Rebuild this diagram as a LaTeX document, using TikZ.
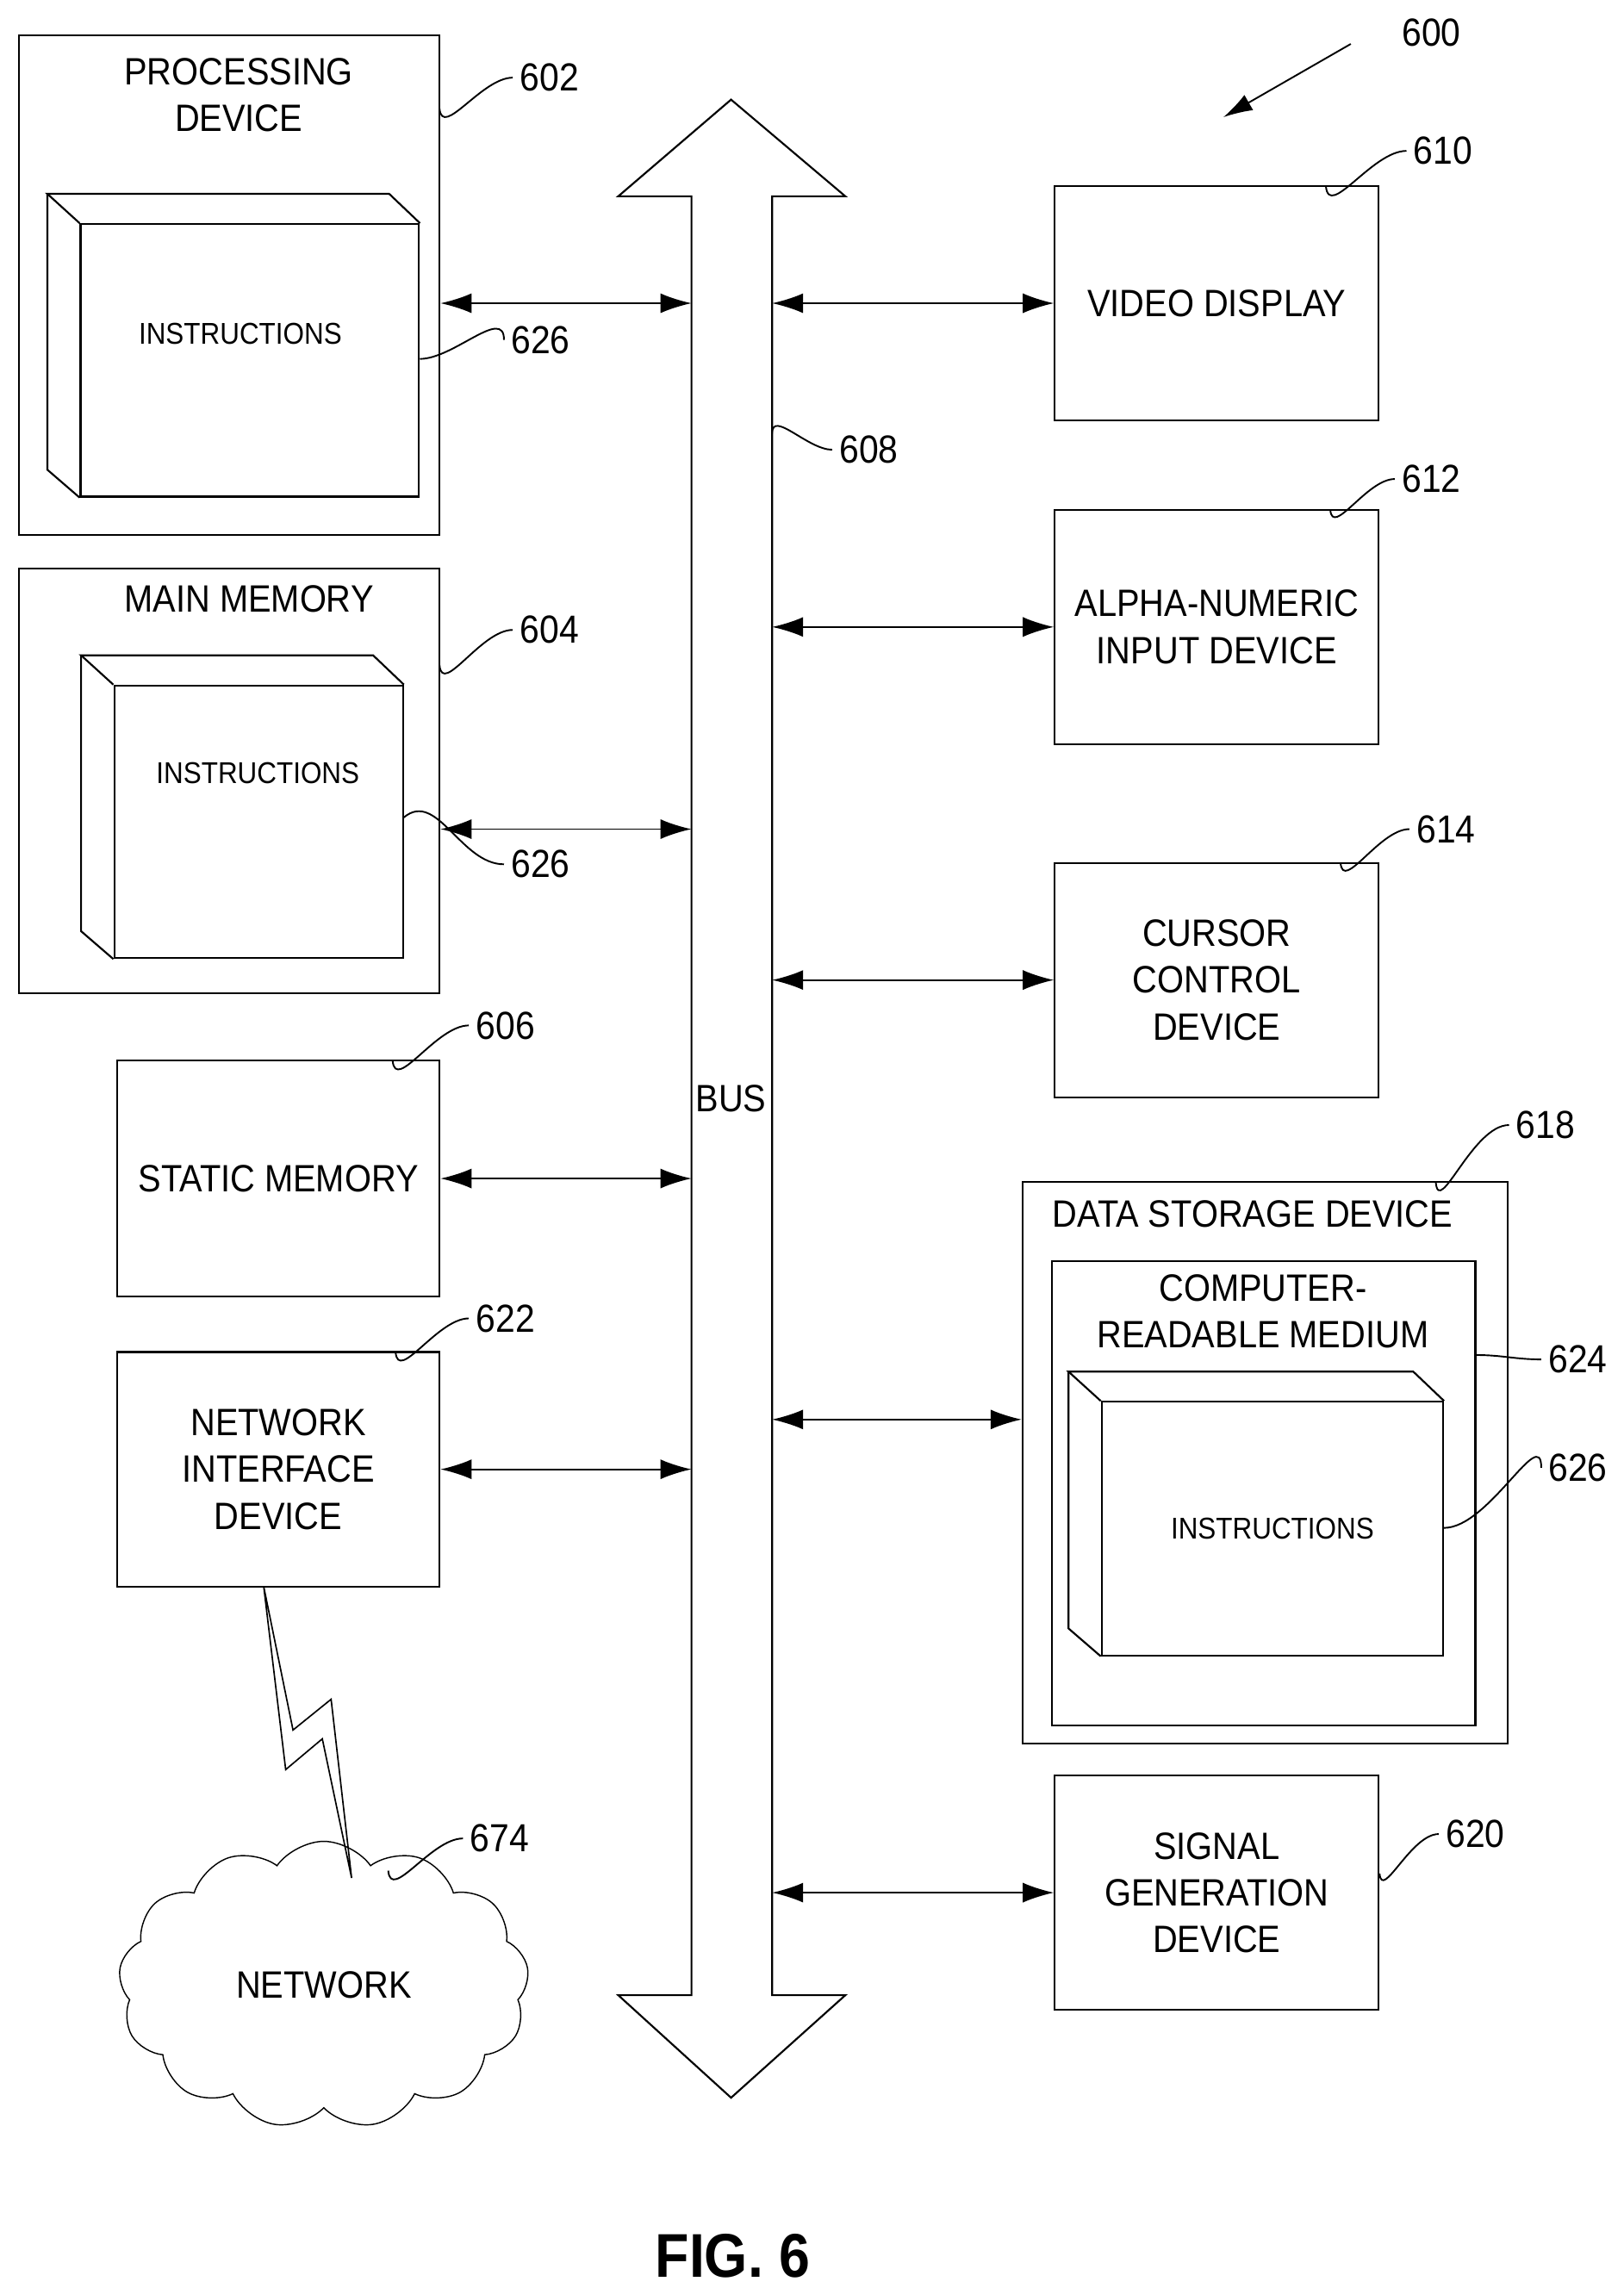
\documentclass[tikz,border=0pt]{standalone}
\usepackage{fontspec}
\setmainfont{Liberation Sans}[FakeStretch=0.9]
\usetikzlibrary{shapes.symbols, arrows.meta}
\tikzstyle{box} = [rectangle, draw=black, line width=0.9pt, align=center, font=\fontsize{18.5}{22.7}\selectfont]
\tikzstyle{title} = [align=center, font=\fontsize{18.5}{22.7}\selectfont]
\tikzstyle{face} = [rectangle, draw=black, line width=0.9pt, font=\fontsize{14.6}{17}\selectfont]
\tikzstyle{ref} = [font=\fontsize{19}{22}\selectfont, anchor=west]
\tikzstyle{lead} = [line width=0.8pt]
\tikzstyle{biarrow} = [line width=0.8pt, {Latex[length=0.53cm,width=0.34cm]}-{Latex[length=0.53cm,width=0.34cm]}]
% 3D block: front face node plus the back edges
\newcommand{\block}[1]{%
  \draw[line width=0.9pt] (#1.north west) -- ++(-22,-20) -- ([shift={(-21,-20)}]#1.north east) -- (#1.north east);
  \draw[line width=0.9pt] ([shift={(-22,-20)}]#1.north west) -- ([shift={(-22,-19)}]#1.south west) -- (#1.south west);}

\begin{document}
\begin{tikzpicture}[x=0.025cm, y=-0.025cm]
    \useasboundingbox (0,0) rectangle (1108,1566);

    % bus
    \draw[line width=0.9pt] (499,68) -- (577,134) -- (527,134) -- (527,1362) -- (577,1362) -- (499,1432) -- (422,1362) -- (472,1362) -- (472,134) -- (422,134) -- cycle;
    \coordinate (busL) at (472,0);
    \coordinate (busR) at (527,0);
    \node (bus) [title] at (499,750) {BUS};
    \node (l608) [ref] at (568,307) {608};
    \draw[lead] (527,296) to[out=90,in=180] (l608.west);

    % left column
    \node (proc) [box, minimum width=7.175cm, minimum height=8.525cm] at (156.5,194.5) {};
    \node (procTxt) [title] at (163,65) {PROCESSING\\DEVICE};
    \node (instr1) [face, minimum width=5.775cm, minimum height=4.65cm] at (170.5,246) {};
    \node (instr1Txt) [font=\fontsize{14.6}{17}\selectfont] at (164,228) {INSTRUCTIONS};
    \block{instr1}
    \node (l602) [ref] at (350,53) {602};
    \draw[lead] (300,74) to[out=275,in=180] (l602.west);
    \node (l626a) [ref] at (344,232) {626};
    \draw[lead] (instr1.east |- 0,245) to[out=0,in=90] (l626a.west);

    \node (mainMem) [box, minimum width=7.175cm, minimum height=7.25cm] at (156.5,533) {};
    \node (mainTxt) [title] at (170,409) {MAIN MEMORY};
    \node (instr2) [face, minimum width=4.925cm, minimum height=4.65cm] at (176.5,561) {};
    \node (instr2Txt) [font=\fontsize{14.6}{17}\selectfont] at (176,528) {INSTRUCTIONS};
    \block{instr2}
    \node (l604) [ref] at (350,430) {604};
    \draw[lead] (300,454) to[out=275,in=180] (l604.west);
    \node (l626b) [ref] at (344,590) {626};
    \draw[lead] (instr2.east |- 0,558) to[out=40,in=180] (l626b.west);

    \node (static) [box, minimum width=5.5cm, minimum height=4.025cm] at (190,804.5) {STATIC MEMORY};
    \node (l606) [ref] at (320,700) {606};
    \draw[lead] (268,724) to[out=275,in=180] (l606.west);

    \node (nid) [box, minimum width=5.5cm, minimum height=4cm] at (190,1003) {NETWORK\\INTERFACE\\DEVICE};
    \node (l622) [ref] at (320,900) {622};
    \draw[lead] (270,923) to[out=275,in=180] (l622.west);

    \node (net) [cloud, cloud puffs=13, cloud puff arc=110, aspect=1.5, draw=black, line width=0.6pt, minimum width=7cm, minimum height=4.9cm, font=\fontsize{18.5}{22}\selectfont] at (221,1355) {NETWORK};
    \node (l674) [ref] at (316,1255) {674};
    \draw[lead] (265,1277) to[out=275,in=180] (l674.west);
    \draw[line width=0.7pt] (180,1083) -- (200,1181) -- (226,1160) -- (240,1282) -- (220,1187) -- (195,1208) -- cycle;

    % right column
    \node (video) [box, minimum width=5.525cm, minimum height=4cm] at (830.5,207) {VIDEO DISPLAY};
    \node (l610) [ref] at (960,103) {610};
    \draw[lead] (905,127) to[out=275,in=180] (l610.west);

    \node (alpha) [box, minimum width=5.525cm, minimum height=4cm] at (830.5,428) {ALPHA-NUMERIC\\INPUT DEVICE};
    \node (l612) [ref] at (952,327) {612};
    \draw[lead] (908,348) to[out=275,in=180] (l612.west);

    \node (cursor) [box, minimum width=5.525cm, minimum height=4cm] at (830.5,669) {CURSOR\\CONTROL\\DEVICE};
    \node (l614) [ref] at (962,566) {614};
    \draw[lead] (915,589) to[out=275,in=180] (l614.west);

    \node (dsd) [box, minimum width=8.275cm, minimum height=9.575cm] at (863.5,998.5) {};
    \node (dsdTxt) [title] at (855,829) {DATA STORAGE DEVICE};
    \node (crm) [box, minimum width=7.225cm, minimum height=7.925cm] at (862.5,1019.5) {};
    \node (crmTxt) [title] at (862,895) {COMPUTER-\\READABLE MEDIUM};
    \node (instr3) [face, minimum width=5.825cm, minimum height=4.325cm] at (868.5,1043.5) {INSTRUCTIONS};
    \block{instr3}
    \node (l618) [ref] at (1030,768) {618};
    \draw[lead] (980,807) to[out=275,in=180] (l618.west);
    \node (l624) [ref] at (1052,928) {624};
    \draw[lead] (crm.east |- 0,925) to[out=0,in=180] (l624.west);
    \node (l626c) [ref] at (1052,1002) {626};
    \draw[lead] (instr3.east |- 0,1043) to[out=0,in=90] (l626c.west);

    \node (signal) [box, minimum width=5.525cm, minimum height=4cm] at (830.5,1292) {SIGNAL\\GENERATION\\DEVICE};
    \node (l620) [ref] at (982,1252) {620};
    \draw[lead] (signal.east |- 0,1279) to[out=275,in=180] (l620.west);

    % connections to the bus
    \draw[biarrow] (proc.east |- 0,207) -- (busL |- 0,207);
    \draw[biarrow] (mainMem.east |- 0,566) -- (busL |- 0,566);
    \draw[biarrow] (static.east) -- (static.east -| busL);
    \draw[biarrow] (nid.east) -- (nid.east -| busL);
    \draw[biarrow] (busR |- video.west) -- (video.west);
    \draw[biarrow] (busR |- alpha.west) -- (alpha.west);
    \draw[biarrow] (busR |- cursor.west) -- (cursor.west);
    \draw[biarrow] (busR |- 0,969) -- (dsd.west |- 0,969);
    \draw[biarrow] (busR |- signal.west) -- (signal.west);

    % figure reference
    \node (l600) [ref] at (952,22) {600};
    \coordinate (p600) at (835,80);
    \draw[line width=0.8pt, -{Latex[length=0.5cm,width=0.3cm]}] (l600.west) ++(-30,8) -- (p600);
    \node (fig) [font=\bfseries\fontsize{30}{34}\selectfont] at (500,1540) {FIG. 6};
\end{tikzpicture}
\end{document}
